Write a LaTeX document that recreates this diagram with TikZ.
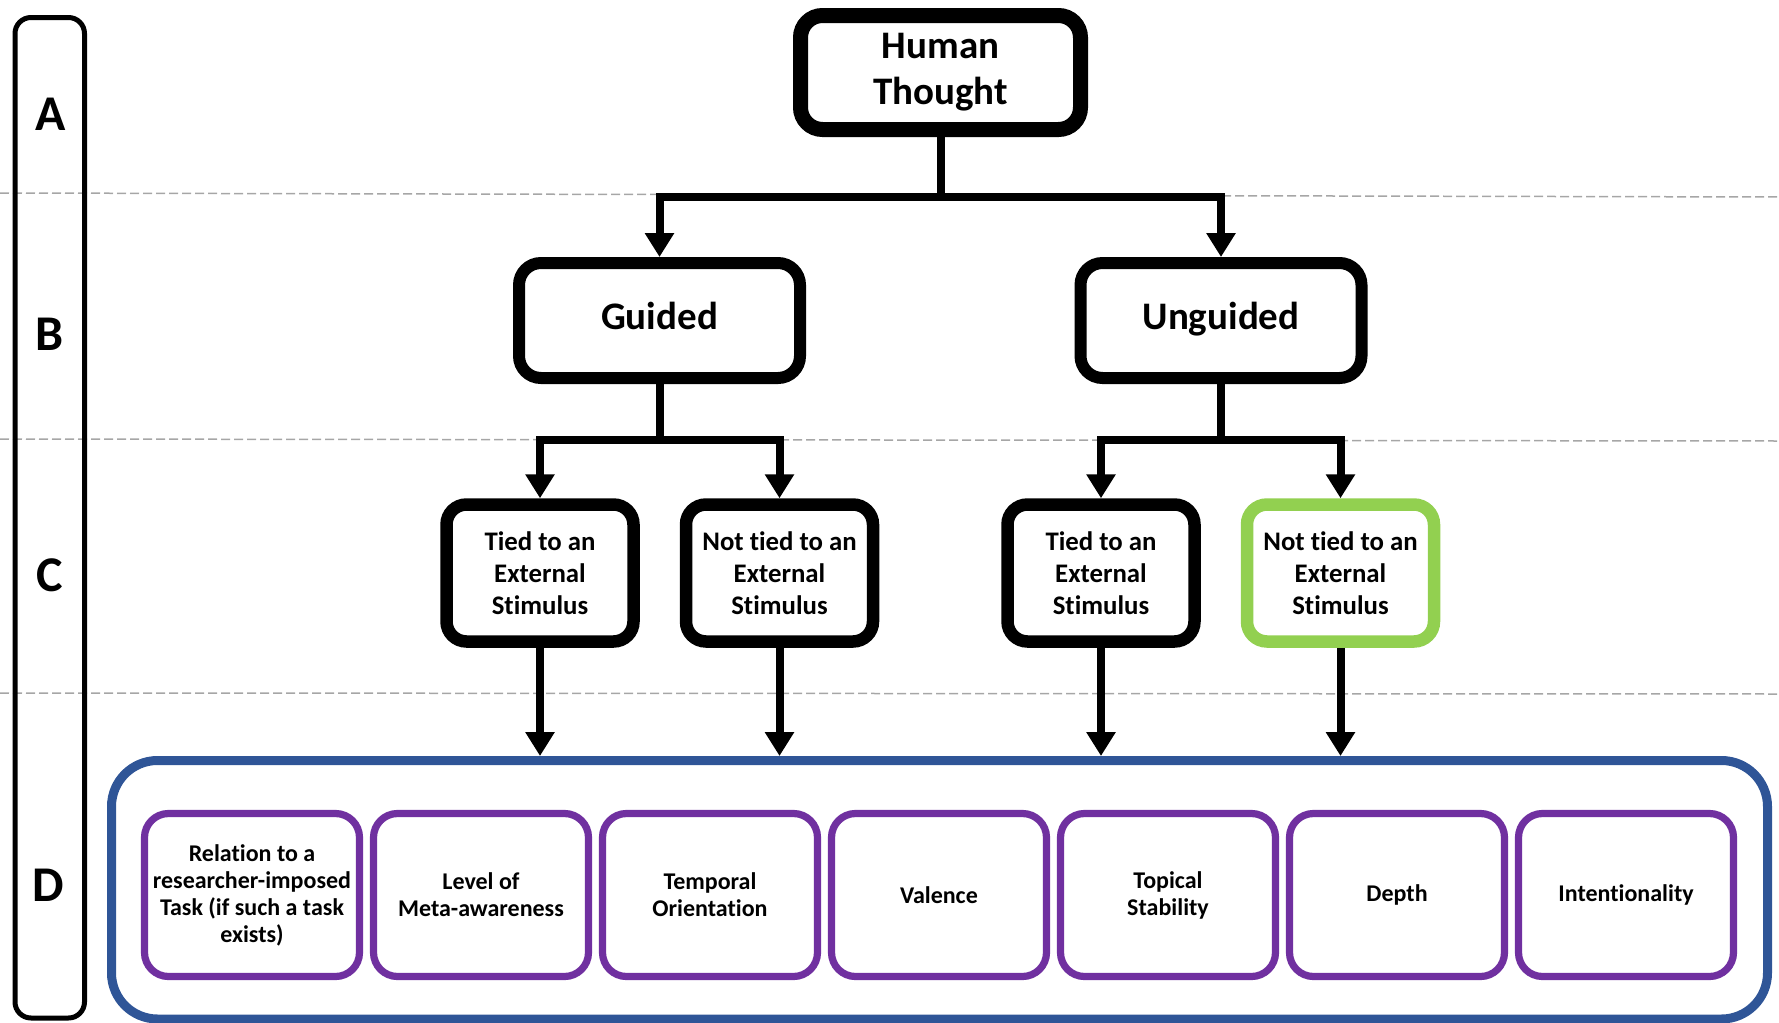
\documentclass[tikz,border=0pt]{standalone}
\usepackage{fontspec}
\setmainfont{Carlito}[Ligatures=CommonOff]
\usetikzlibrary{arrows.meta,calc}
\definecolor{LevelClr}{rgb}{0.65,0.65,0.65}
\definecolor{DimClr}{HTML}{2F5597}
\definecolor{AttrClr}{HTML}{7030A0}
\definecolor{FreeClr}{HTML}{92D050}

\begin{document}
\begin{tikzpicture}[x=0.5pt,y=-0.5pt,
  level/.style={draw=LevelClr,line width=0.75pt,dash pattern=on 4.5pt off 2pt},
  tag/.style={font=\bfseries\fontsize{25pt}{28pt}\selectfont,inner sep=0pt},
  box/.style={draw=black,fill=white,align=center,inner sep=0pt},
  topbox/.style={box,line width=7.5pt,rounded corners=11pt,minimum width=140pt,minimum height=57pt,
    font=\bfseries\fontsize{19.5pt}{23pt}\selectfont},
  midbox/.style={box,line width=6pt,rounded corners=11pt,minimum width=140.5pt,minimum height=57.5pt,
    text height=13.5pt,text depth=4.5pt,font=\bfseries\fontsize{19.5pt}{23pt}\selectfont},
  leafbox/.style={box,line width=6.25pt,rounded corners=10pt,minimum width=93.5pt,minimum height=68.5pt,
    font=\bfseries\fontsize{13.4pt}{16pt}\selectfont},
  attr/.style={box,draw=AttrClr,line width=3.6pt,rounded corners=12pt,minimum width=107.5pt,minimum height=81.5pt,
    font=\bfseries\fontsize{12pt}{13.5pt}\selectfont},
  link/.style={line width=4pt,-{Triangle[length=12pt,width=14pt]}}]

\useasboundingbox (0,0) rectangle (1779,1023);

\draw[level] (0,193) -- (1779,197);
\draw[level] (0,439) -- (1779,441);
\draw[level] (0,693) -- (1779,694);

\draw[line width=2.5pt,rounded corners=8pt] (15,17.5) rectangle (84.5,1018);
\node[tag] (lA) at (51,114) {A};
\node[tag] (lB) at (50,334) {B};
\node[tag] (lC) at (50,575) {C};
\node[tag] (lD) at (48,885) {D};

\node[topbox] (ht) at (940.5,72.5) {Human\\Thought};
\node[midbox] (gd) at (659.5,320.5) {Guided};
\node[midbox] (ug) at (1221,320.5) {Unguided};

\node[leafbox] (gT) at (540,573) {Tied to an\\External\\Stimulus};
\node[leafbox] (gN) at (779.5,573) {Not tied to an\\External\\Stimulus};
\node[leafbox] (uT) at (1101,573) {Tied to an\\External\\Stimulus};
\node[leafbox,draw=FreeClr] (uN) at (1340.5,573) {Not tied to an\\External\\Stimulus};

\node[draw=DimClr,line width=4.5pt,rounded corners=23pt,minimum width=828pt,minimum height=129.25pt,inner sep=0pt]
  (dims) at (939.5,889.75) {};
\node[attr] (d1) at (252,895) {Relation to a\\researcher-imposed\\Task (if such a task\\exists)};
\node[attr] (d2) at (481,895) {Level of\\Meta-awareness};
\node[attr] (d3) at (710,895) {Temporal\\Orientation};
\node[attr] (d4) at (939,895) {Valence};
\node[attr] (d5) at (1168,895) {Topical\\Stability};
\node[attr] (d6) at (1397,895) {Depth};
\node[attr] (d7) at (1626,895) {Intentionality};

\coordinate (jt) at (940.5,197);
\coordinate (jg) at (659.5,440);
\coordinate (ju) at (1221,440);

\draw[link] (ht) -- (jt) -| (gd);
\draw[link] (jt) -| (ug);
\draw[link] (gd) -- (jg) -| (gT);
\draw[link] (jg) -| (gN);
\draw[link] (ug) -- (ju) -| (uT);
\draw[link] (ju) -| (uN);

\draw[link] (gT) -- (gT |- dims.north);
\draw[link] (gN) -- (gN |- dims.north);
\draw[link] (uT) -- (uT |- dims.north);
\draw[link] (uN) -- (uN |- dims.north);

\end{tikzpicture}
\end{document}
